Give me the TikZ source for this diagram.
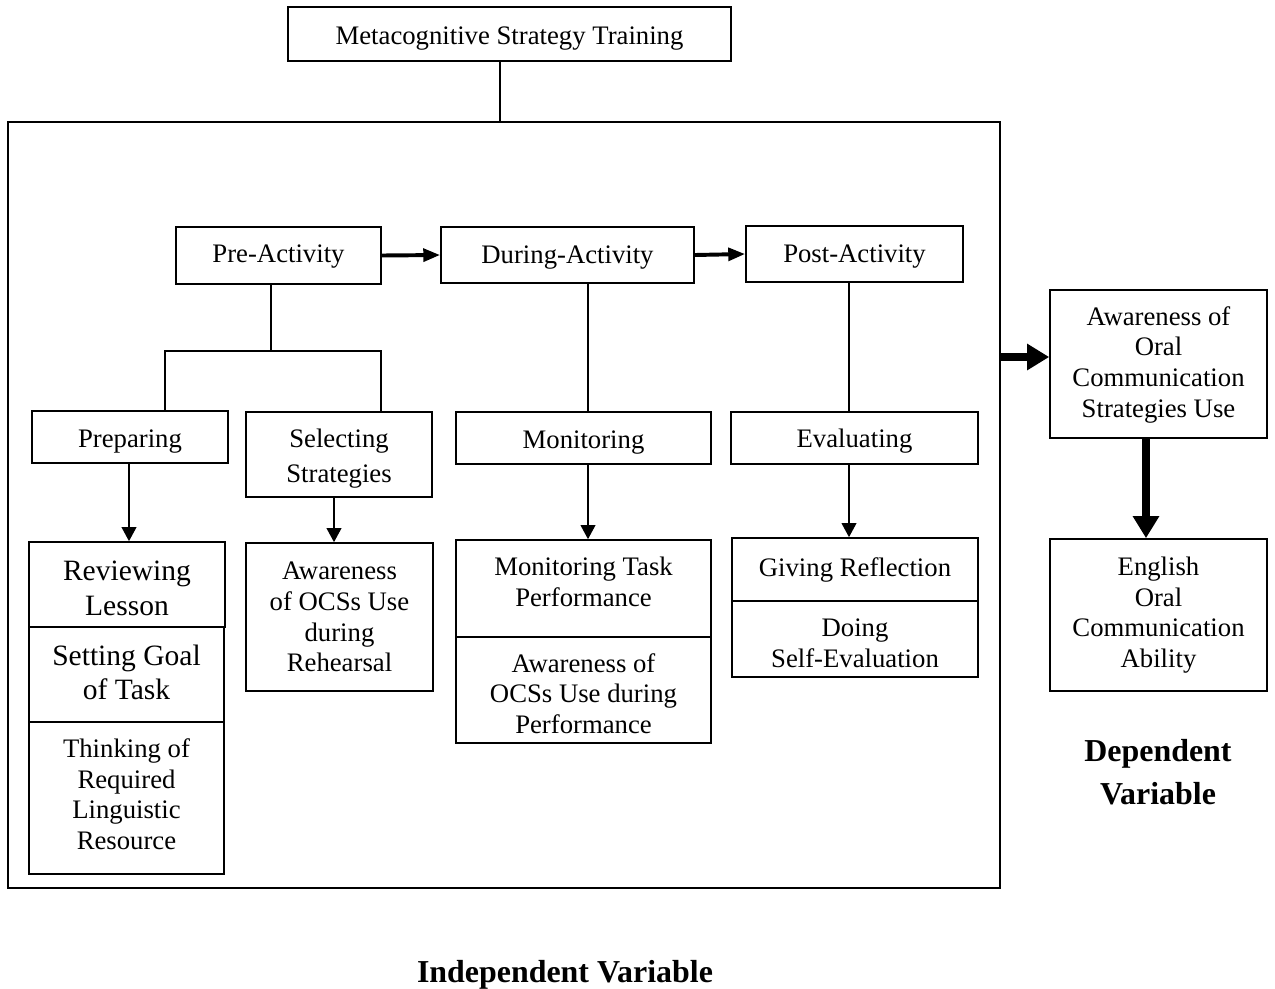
\documentclass[tikz,border=0pt]{standalone}
\usepackage{fontspec}
\setmainfont{Liberation Serif}
\usetikzlibrary{arrows.meta}
\tikzset{wh/.style 2 args={minimum width=#1*0.025cm, minimum height=#2*0.025cm}}
\newcommand\topgap[1]{\rule{0pt}{#1}}
\newcommand\botgap[1]{\rule[-#1]{0pt}{#1}}

\begin{document}
\begin{tikzpicture}[x=0.025cm, y=-0.025cm, >={Triangle[length=10pt,width=10.5pt]},
    box/.style={draw, line width=1.2pt, inner sep=0pt, align=center, font=\fontsize{19}{21.8}\selectfont},
    big/.style={font=\fontsize{21}{24.5}\selectfont},
    down/.style={->, line width=1.1pt},
    seq/.style={-{Triangle[length=12pt,width=9pt]}, line width=2.8pt},
    heavy/.style={-{Triangle[length=15.6pt,width=17.8pt]}, line width=5.7pt},
    var/.style={align=center, font=\fontsize{22.7}{30.5}\selectfont\bfseries}]
\useasboundingbox (0,0) rectangle (1275,988);

\node[box, wh={443}{54}] (train) at (509.5,34) {\topgap{18.5pt}Metacognitive Strategy Training};
\node[box, wh={992}{766}] (frame) at (504,505) {};

\node[box, wh={205}{57}] (pre) at (278.5,255.5) {\topgap{14.2pt}Pre-Activity};
\node[box, wh={253}{56}] (during) at (567.5,255) {\topgap{15.6pt}During-Activity};
\node[box, wh={217}{56}] (post) at (854.5,254) {\topgap{15.6pt}Post-Activity};

\node[box, wh={196}{52}] (prep) at (130,437) {\topgap{18.5pt}Preparing};
\node[box, wh={186}{85}] (select) at (339,454.5) {\topgap{18.5pt}Selecting\\[3pt]Strategies};
\node[box, wh={255}{52}] (monit) at (583.5,438) {\topgap{18.5pt}Monitoring};
\node[box, wh={247}{52}] (eval) at (854.5,438) {\topgap{17.1pt}Evaluating};

\node[box, big, wh={196}{85}] (review) at (127,584.5) {\topgap{19.3pt}Reviewing\\Lesson};
\node[box, big, wh={195}{95}] (goal) at (126.5,674.5) {Setting Goal\\of Task\botgap{3.6pt}};
\node[box, wh={195}{152}] (think) at (126.5,798) {Thinking of\\Required\\Linguistic\\Resource\botgap{5.7pt}};
\node[box, wh={187}{148}] (rehearse) at (339.5,617) {Awareness\\of OCSs Use\\during\\Rehearsal};
\node[box, wh={255}{97}] (task) at (583.5,588.5) {Monitoring Task\\Performance\botgap{9.2pt}};
\node[box, wh={255}{106}] (perform) at (583.5,690) {\topgap{18.5pt}Awareness of\\OCSs Use during\\Performance};
\node[box, wh={246}{63}] (reflect) at (855,569.5) {Giving Reflection};
\node[box, wh={246}{76}] (self) at (855,639) {\topgap{18.5pt}Doing\\Self-Evaluation};

\node[box, wh={217}{148}] (aware) at (1158.5,364) {\topgap{14.2pt}Awareness of\\Oral\\Communication\\Strategies Use};
\node[box, wh={217}{152}] (ability) at (1158.5,615) {English\\Oral\\Communication\\Ability};

\node[var] (dep) at (1158,772) {Dependent\\Variable};
\node[var] (indep) at (565,975) {Independent Variable};

\coordinate (tstem) at (500,0);
\coordinate (fork) at (271,351);
\coordinate (lbr) at (165,351);
\coordinate (rbr) at (381,351);
\coordinate (dstem) at (588,0);
\coordinate (pstem) at (849,0);
\coordinate (prepx) at (129,0);
\coordinate (selx) at (334,0);
\coordinate (bigy) at (0,357);
\coordinate (bigx) at (1146,0);

\draw[line width=1.1pt] (tstem |- train.south) -- (tstem |- frame.north);
\draw[seq] (pre.east) -- (during.west);
\draw[seq] (during.east) -- (post.west);

\draw[line width=1.1pt] (fork |- pre.south) -- (fork);
\draw[line width=1.1pt] (lbr |- prep.north) -- (lbr) -- (rbr) -- (rbr |- select.north);
\draw[line width=1.1pt] (dstem |- during.south) -- (dstem |- monit.north);
\draw[line width=1.1pt] (pstem |- post.south) -- (pstem |- eval.north);

\draw[down] (prepx |- prep.south) -- (prepx |- review.north);
\draw[down] (selx |- select.south) -- (selx |- rehearse.north);
\draw[down] (dstem |- monit.south) -- (dstem |- task.north);
\draw[down] (pstem |- eval.south) -- (pstem |- reflect.north);

\draw[heavy] (frame.east |- bigy) -- (aware.west |- bigy);
\draw[heavy] (bigx |- aware.south) -- (bigx |- ability.north);
\end{tikzpicture}
\end{document}
